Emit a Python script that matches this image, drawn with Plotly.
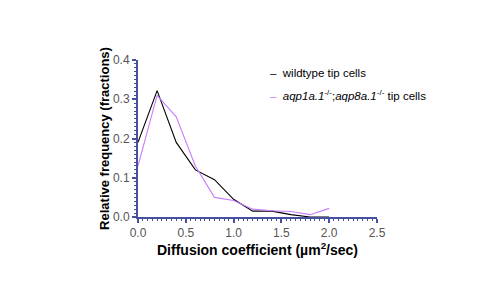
import plotly.graph_objects as go

x_vals = [0.0, 0.2, 0.4, 0.6, 0.8, 1.0, 1.2, 1.4, 1.6, 1.8, 2.0]
wildtype = [0.19, 0.322, 0.19, 0.12, 0.095, 0.045, 0.015, 0.015, 0.006, 0.0, 0.0]
mutant = [0.13, 0.31, 0.255, 0.13, 0.05, 0.042, 0.02, 0.016, 0.014, 0.006, 0.022]
names = ["wildtype tip cells",
         "<i>aqp1a.1</i><sup>-/-</sup>;<i>aqp8a.1</i><sup>-/-</sup> tip cells"]
colors = ["black", "#c77dff"]

axis_color = "#4650a0"
font_fam = "Liberation Sans, Arial"
fig = go.Figure()
for yv, nm, col in zip([wildtype, mutant], names, colors):
    fig.add_trace(go.Scatter(x=x_vals, y=yv, mode="lines", name=nm, showlegend=False,
                             line=dict(color=col, width=1.1)))

axis_common = dict(showgrid=False, zeroline=False, showline=True, linecolor=axis_color, linewidth=2,
                   ticks="outside", tickcolor=axis_color, ticklen=4, tickwidth=1.5,
                   tickfont=dict(family=font_fam, size=12, color="#555555"))
fig.update_xaxes(range=[0, 2.5], dtick=0.5, tickformat=".1f",
                 minor=dict(ticks="outside", dtick=0.05, ticklen=2, tickcolor=axis_color, tickwidth=1),
                 title=dict(text="<b>Diffusion coefficient (µm<sup>2</sup>/sec)</b>",
                            font=dict(family=font_fam, size=14, color="black"), standoff=1),
                 **axis_common)
fig.update_yaxes(range=[0, 0.4], dtick=0.1, tickformat=".1f",
                 minor=dict(ticks="outside", dtick=0.01, ticklen=2, tickcolor=axis_color, tickwidth=1),
                 title=dict(text="<b>Relative frequency (fractions)</b>",
                            font=dict(family=font_fam, size=13, color="black"), standoff=0),
                 **axis_common)

for i, (nm, col) in enumerate(zip(names, colors)):
    fig.add_annotation(xref="paper", yref="paper", x=0.544, y=0.917 - i * 0.14,
                       xanchor="left", yanchor="middle", showarrow=False,
                       text=f"<span style='color:{col}'>–</span>  {nm}",
                       font=dict(family=font_fam, size=11.5, color="black"))

fig.update_layout(width=500, height=281, margin=dict(l=130, r=131, t=52, b=72),
                  plot_bgcolor="white", paper_bgcolor="white", showlegend=False)
fig.write_html("out.html")
